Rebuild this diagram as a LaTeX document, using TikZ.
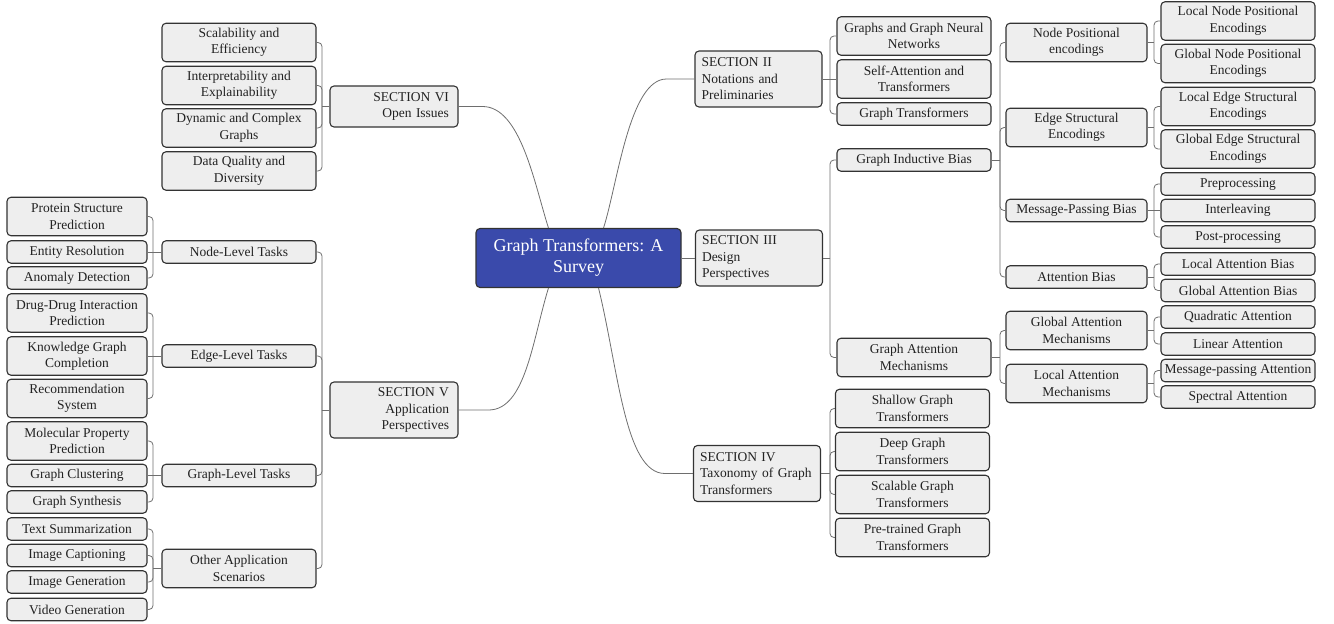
\documentclass[tikz,border=0pt]{standalone}
\usepackage{fontspec}
\setmainfont{Liberation Serif}
\usetikzlibrary{calc}
\definecolor{boxc}{HTML}{EEEEEE}
\definecolor{bordc}{HTML}{333333}
\definecolor{txtc}{HTML}{222222}
\definecolor{linec}{HTML}{6E6E6E}
\definecolor{rootc}{HTML}{3A4AAB}
\newcommand\fsz{\fontsize{13.5}{16.5}\selectfont}
\newcommand\rootfsz{\fontsize{18}{21}\selectfont}
\newcommand\branchR[3]{%
  \draw[conn] (#1.east) -- (#1.east -| #2);
  \foreach \kid in {#3}{\draw[curl] (#1.east -| #2) |- (\kid.west);}}
\newcommand\branchL[3]{%
  \draw[conn] (#1.west) -- (#1.west -| #2);
  \foreach \kid in {#3}{\draw[curl] (#1.west -| #2) |- (\kid.east);}}
\begin{document}
\begin{tikzpicture}[x=1pt,y=-1pt,
  box/.style={draw=bordc, fill=boxc, line width=1.1pt, rounded corners=4pt,
    inner sep=0pt, text=txtc, font=\fsz, align=center},
  one/.style={minimum height=22.5pt},
  two/.style={minimum height=38.5pt},
  wA/.style={box, minimum width=140pt},
  wB/.style={box, minimum width=154pt},
  wF/.style={box, minimum width=141pt},
  secL/.style={box, minimum height=56pt, inner xsep=6.5pt, text width=114pt, align=left},
  secR/.style={box, inner xsep=9pt, text width=110pt, align=right},
  rootbox/.style={draw=bordc, fill=rootc, line width=1.1pt, rounded corners=4pt,
    minimum width=205pt, minimum height=59pt, text=white, font=\rootfsz, align=center},
  conn/.style={draw=linec, line width=0.8pt},
  curl/.style={conn, rounded corners=4pt}]
\useasboundingbox (0,0) rectangle (1334,624);

% trunk x positions
\coordinate (tA) at (153,0);
\coordinate (tB) at (322,0);
\coordinate (tD) at (830,0);
\coordinate (tE) at (1000,0);
\coordinate (tF) at (1154,0);

% root
\node[rootbox] (root) at (578.5,258) {Graph Transformers: A\\Survey};

% ---------- left side ----------
\node[secR, minimum height=41pt] (sec6) at (394,106.5) {SECTION VI\\Open Issues};
\node[secR, minimum height=56pt] (sec5) at (394,410) {SECTION V\\Application\\Perspectives};

\node[wB,two] (scal) at (239,42.5) {Scalability and\\Efficiency};
\node[wB,two] (interp) at (239,85.5) {Interpretability and\\Explainability};
\node[wB,two] (dyn) at (239,128) {Dynamic and Complex\\Graphs};
\node[wB,two] (dq) at (239,171) {Data Quality and\\Diversity};

\node[wB,one] (nodelvl) at (239,252) {Node-Level Tasks};
\node[wB,one] (edgelvl) at (239,356) {Edge-Level Tasks};
\node[wB,one] (graphlvl) at (239,475.5) {Graph-Level Tasks};
\node[wB,two] (other) at (239,568.5) {Other Application\\Scenarios};

\node[wA,two] (prot) at (77,216.5) {Protein Structure\\Prediction};
\node[wA,one] (ent) at (77,252) {Entity Resolution};
\node[wA,one] (anom) at (77,278) {Anomaly Detection};
\node[wA,two] (drug) at (77,313) {Drug-Drug Interaction\\Prediction};
\node[wA,two] (know) at (77,356) {Knowledge Graph\\Completion};
\node[wA,two] (rec) at (77,398.5) {Recommendation\\System};
\node[wA,two] (mol) at (77,441) {Molecular Property\\Prediction};
\node[wA,one] (clus) at (77,475.5) {Graph Clustering};
\node[wA,one] (synth) at (77,502) {Graph Synthesis};
\node[wA,one] (txt) at (77,529) {Text Summarization};
\node[wA,one] (capt) at (77,555.5) {Image Captioning};
\node[wA,one] (igen) at (77,582) {Image Generation};
\node[wA,one] (vgen) at (77,609.5) {Video Generation};

% ---------- right side ----------
\node[secL] (sec2) at (758.5,79) {SECTION II\\Notations and\\Preliminaries};
\node[secL] (sec3) at (759,258) {SECTION III\\Design\\Perspectives};
\node[secL] (sec4) at (757,473.5) {SECTION IV\\Taxonomy of Graph\\Transformers};

\node[wB,two] (gnn) at (914,36) {Graphs and Graph Neural\\Networks};
\node[wB,two] (selfatt) at (914,79) {Self-Attention and\\Transformers};
\node[wB,one] (gtr) at (914,114) {Graph Transformers};
\node[wB,one] (gib) at (914,160) {Graph Inductive Bias};
\node[wB,two] (gam) at (914,357.5) {Graph Attention\\Mechanisms};
\node[wB,two] (shallow) at (912.5,408.5) {Shallow Graph\\Transformers};
\node[wB,two] (deep) at (912.5,451.5) {Deep Graph\\Transformers};
\node[wB,two] (scalable) at (912.5,494.5) {Scalable Graph\\Transformers};
\node[wB,two] (pretrained) at (912.5,537.5) {Pre-trained Graph\\Transformers};

\node[wF,two] (npe) at (1076.5,42.5) {Node Positional\\encodings};
\node[wF,two] (ese) at (1076.5,127.5) {Edge Structural\\Encodings};
\node[wF,one] (mpb) at (1076.5,210.5) {Message-Passing Bias};
\node[wF,one] (ab) at (1076.5,277) {Attention Bias};
\node[wF,two] (gamech) at (1076.5,330.5) {Global Attention\\Mechanisms};
\node[wF,two] (lamech) at (1076.5,383.5) {Local Attention\\Mechanisms};

\node[wB,two] (lnpe) at (1238,21) {Local Node Positional\\Encodings};
\node[wB,two] (gnpe) at (1238,63.5) {Global Node Positional\\Encodings};
\node[wB,two] (lese) at (1238,106.5) {Local Edge Structural\\Encodings};
\node[wB,two] (gese) at (1238,149) {Global Edge Structural\\Encodings};
\node[wB,one] (pre) at (1238,184) {Preprocessing};
\node[wB,one] (inter) at (1238,210.5) {Interleaving};
\node[wB,one] (post) at (1238,237) {Post-processing};
\node[wB,one] (lab) at (1238,264) {Local Attention Bias};
\node[wB,one] (gab) at (1238,290.5) {Global Attention Bias};
\node[wB,one] (quad) at (1238,317) {Quadratic Attention};
\node[wB,one] (lin) at (1238,344) {Linear Attention};
\node[wB,one] (mpa) at (1238,370.5) {Message-passing Attention};
\node[wB,one] (spec) at (1238,397) {Spectral Attention};

% ---------- root connectors ----------
\draw[conn] (sec6.east) -- ++(24,0) .. controls +(38,0) and +(-14,-44) .. ([xshift=73pt]root.north west);
\draw[conn] (sec2.west) -- ++(-28,0) .. controls +(-37,0) and +(14,-44) .. ([xshift=-78pt]root.north east);
\draw[conn] (sec5.east) -- ++(30,0) .. controls +(37,0) and +(-16,52) .. ([xshift=73pt]root.south west);
\draw[conn] (sec4.west) -- ++(-28,0) .. controls +(-40,0) and +(20,82) .. ([xshift=-83pt]root.south east);
\draw[conn] (root.east) -- (sec3.west);

% ---------- branch connectors ----------
\branchL{sec6}{tB}{scal,interp,dyn,dq}
\branchL{sec5}{tB}{nodelvl,edgelvl,graphlvl,other}
\branchL{nodelvl}{tA}{prot,anom}
\draw[conn] (nodelvl.west) -- (ent.east);
\branchL{edgelvl}{tA}{drug,rec}
\draw[conn] (edgelvl.west) -- (know.east);
\branchL{graphlvl}{tA}{mol,synth}
\draw[conn] (graphlvl.west) -- (clus.east);
\branchL{other}{tA}{txt,capt,igen,vgen}

\branchR{sec2}{tD}{gnn,gtr}
\draw[conn] (sec2.east) -- (selfatt.west);
\branchR{sec3}{tD}{gib,gam}
\branchR{sec4}{tD}{shallow,deep,scalable,pretrained}
\branchR{gib}{tE}{npe,ese,mpb,ab}
\branchR{gam}{tE}{gamech,lamech}
\branchR{npe}{tF}{lnpe,gnpe}
\branchR{ese}{tF}{lese,gese}
\branchR{mpb}{tF}{pre,post}
\draw[conn] (mpb.east) -- (inter.west);
\branchR{ab}{tF}{lab,gab}
\branchR{gamech}{tF}{quad,lin}
\branchR{lamech}{tF}{mpa,spec}
\end{tikzpicture}
\end{document}
